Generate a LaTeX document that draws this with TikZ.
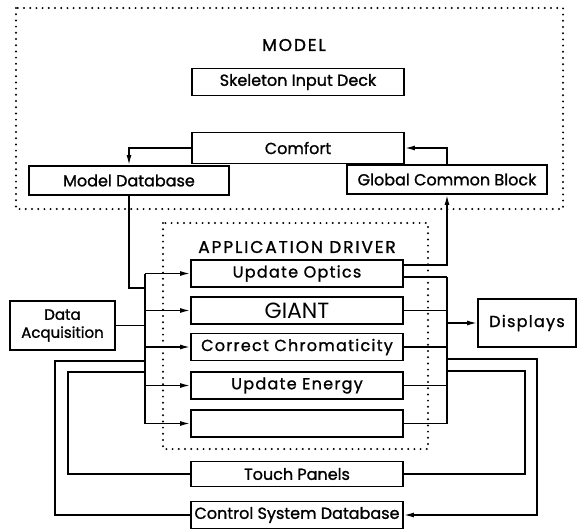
\documentclass[tikz,border=0pt]{standalone}
\usepackage{fontspec}
\setmainfont{Poppins}[FakeBold=1.2]
\newfontfamily\widefont{Poppins}[FakeBold=1.2,LetterSpace=8]
\newfontfamily\headfont{Poppins}[FakeBold=1.2,LetterSpace=11]
\newfontfamily\bigfont{Poppins}
\usetikzlibrary{arrows.meta}

\tikzset{
  box/.style={draw, line width=1.8pt, minimum width=212pt, minimum height=27pt,
    inner sep=0pt, font=\fontsize{16}{18}\selectfont},
  widebox/.style={box, font=\widefont\fontsize{16}{18}\selectfont},
  dotbox/.style={draw, line width=2.2pt, line cap=round, dash pattern=on 0pt off 6.2pt},
  head/.style={font=\headfont\fontsize{17}{19}\selectfont},
  link/.style={line width=1.5pt},
  arr/.style={link, -{Latex[length=10pt,width=5pt]}},
}

\begin{document}
\begin{tikzpicture}[x=1pt,y=-1pt]
\useasboundingbox (0,0) rectangle (580,531);

% frames
\draw[dotbox] (16,8) rectangle (563,209);
\draw[dotbox] (163,223) rectangle (428,449);
\node[head] (modelhd) at (294,45) {MODEL};
\node[head] (drvhd) at (297,247) {APPLICATION DRIVER};

% model part
\node[box] (skel) at (298,82) {Skeleton Input Deck};
\node[box, minimum height=31pt] (comfort) at (298,148) {Comfort};
\node[box, minimum width=200pt, minimum height=29pt] (mdb) at (129,180.5) {Model Database};
\node[box, minimum width=200pt, minimum height=29pt] (gcb) at (447,179.5) {Global Common Block};

% driver routines
\foreach \name/\y/\txt in {uo/273.5/Update Optics, cc/347/Correct Chromaticity,
    ue/385.5/Update Energy, blank/423.5/{}}
  \node[widebox] (\name) at (297,\y) {\txt};
\node[box, font=\bigfont\fontsize{22}{24}\selectfont] (giant) at (297,310.5) {GIANT};

\node[box, minimum height=25pt] (tp) at (297,474) {Touch Panels};
\node[box] (csd) at (297,515) {Control System Database};
\node[box, minimum width=105pt, minimum height=49pt, align=center,
  font=\fontsize{15}{18}\selectfont] (daq) at (62.5,325.5) {Data\\Acquisition};
\node[box, minimum width=98pt, minimum height=48pt, font=\widefont\fontsize{16}{18}\selectfont]
  (disp) at (527,323) {Displays};

% model links
\draw[arr] (comfort.west) -| (mdb.north);
\draw[arr] (gcb.north) |- (comfort.east);

% input bus
\coordinate (ltop) at (145,273.5);
\coordinate (lbot) at (145,423.5);
\coordinate (mdbin) at (145,288);
\coordinate (csdin) at (145,361);
\coordinate (tpin) at (145,372);
\draw[link] (ltop) -- (lbot);
\foreach \name in {uo,giant,cc,ue,blank}
  \draw[arr] (\name.west -| ltop) -- (\name.west);
\draw[link] (mdb.south) |- (mdbin);
\draw[link] (daq.east) -- (daq.east -| ltop);
\draw[link] (csd.west) -- ++(-135,0) |- (csdin);
\draw[link] (tp.west) -- ++(-122,0) |- (tpin);

% output bus
\coordinate (rtop) at (447,277);
\coordinate (rbot) at (447,423.5);
\coordinate (csdout) at (447,359);
\coordinate (tpout) at (447,371);
\draw[link] (rtop) -- (rbot);
\draw[link] ([yshift=-3.5pt]uo.east) -- (rtop);
\draw[arr] ([yshift=8.5pt]uo.east) -| (gcb.south);
\foreach \name in {giant,cc,ue,blank}
  \draw[link] (\name.east) -- (\name.east -| rtop);
\draw[arr] (rtop |- disp.west) -- (disp.west);
\draw[arr] (csdout) -- ++(90,0) |- (csd.east);
\draw[link] (tpout) -- ++(78,0) |- (tp.east);
\end{tikzpicture}
\end{document}
